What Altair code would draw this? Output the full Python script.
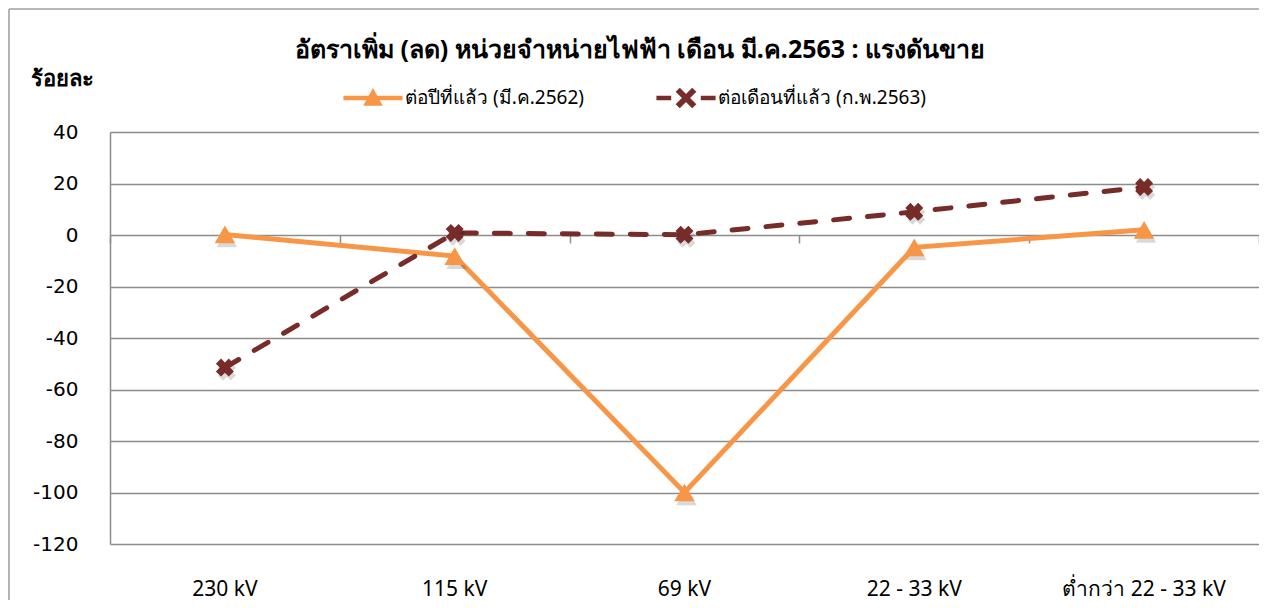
import altair as alt
import pandas as pd

CATS = ["230 kV", "115 kV", "69 kV", "22 - 33 kV", "ต่ำกว่า 22 - 33 kV"]
S1 = "ต่อปีที่แล้ว (มี.ค.2562)"
S2 = "ต่อเดือนที่แล้ว (ก.พ.2563)"
YOY = [0.2, -8.2, -100.0, -4.8, 2.0]
MOM = [-51.5, 0.8, 0.1, 9.0, 18.6]
TITLE = "อัตราเพิ่ม (ลด) หน่วยจำหน่ายไฟฟ้า เดือน มี.ค.2563 : แรงดันขาย"
YTITLE = "ร้อยละ"
YTICKS = [40, 20, 0, -20, -40, -60, -80, -100, -120]

ORANGE = "#F79646"
DARKRED = "#772C2A"
FONT = "DejaVu Sans"
THAI = "Noto Sans, DejaVu Sans, sans-serif"

rows = []
for c, v in zip(CATS, YOY):
    rows.append({"cat": c, "series": S1, "value": v})
for c, v in zip(CATS, MOM):
    rows.append({"cat": c, "series": S2, "value": v})
df = pd.DataFrame(rows)

XSCALE = alt.Scale(type="band", paddingInner=0, paddingOuter=0)
xmain = alt.X("cat:N", sort=CATS, scale=XSCALE,
              axis=alt.Axis(title=None, orient="bottom", domain=False, ticks=False, grid=False,
                            labelAngle=0, labelFont=THAI, labelFontSize=21, labelFontWeight="normal",
                            labelColor="#000", labelPadding=34, labelLimit=400))
xenc = alt.X("cat:N", sort=CATS, scale=XSCALE, axis=None)
yenc = alt.Y("value:Q", scale=alt.Scale(domain=[-120, 40], nice=False, zero=False),
             axis=alt.Axis(values=YTICKS, labelExpr="'' + datum.value",
                           title=YTITLE, titleAngle=0, titleX=-80, titleY=-54,
                           titleAlign="left", titleBaseline="middle", titleFont=THAI,
                           titleFontSize=22, titleFontWeight="bold", titleColor="#000",
                           labelFont=FONT, labelFontSize=20, labelFontWeight="normal",
                           labelColor="#000", labelPadding=32,
                           ticks=False, domain=True, domainColor="#8c8c8c", domainWidth=1.5,
                           grid=True, gridColor="#8c8c8c", gridWidth=1.3))

base = alt.Chart(df)

PATH_A = ("M-1,-0.08H1V0.08H-1Z "
          "M0,-0.34L0.33,0.26L-0.33,0.26Z")
PATH_B = ("M-1,-0.08H-0.5V0.08H-1Z M0.5,-0.08H1V0.08H0.5Z "
          "M-0.35,-0.21L-0.21,-0.35L0.35,0.21L0.21,0.35Z "
          "M0.21,-0.35L0.35,-0.21L-0.21,0.35L-0.35,0.21Z")

def legend(path, lx):
    return alt.Legend(title=None, orient="none", legendX=lx, legendY=-64, direction="horizontal",
                      symbolType=path, symbolSize=3500, symbolStrokeWidth=0,
                      labelFont=THAI, labelFontSize=19, labelFontWeight="normal",
                      labelColor="#000", labelOffset=2, labelLimit=500)

frame_data = alt.Data(values=[{"f": 1}])
frame_left = alt.Chart(frame_data).mark_rule(stroke="#a0a0a0", strokeWidth=1.6).encode(
    x=alt.value(-101), y=alt.value(-123), y2=alt.value(468))
frame_top = alt.Chart(frame_data).mark_rule(stroke="#a0a0a0", strokeWidth=1.6).encode(
    x=alt.value(-101), x2=alt.value(1149), y=alt.value(-123))

line1 = base.transform_filter(alt.datum.series == S1).mark_line(
    color=ORANGE, strokeWidth=5).encode(x=xmain, y=yenc)
line2 = base.transform_filter(alt.datum.series == S2).mark_line(
    color=DARKRED, strokeWidth=5, strokeDash=[16, 18], strokeCap="round").encode(x=xenc, y=yenc)

sh1 = base.transform_filter(alt.datum.series == S1).mark_point(
    shape="triangle-up", filled=True, size=420, color="#000", opacity=0.15,
    xOffset=2, yOffset=4).encode(x=xenc, y=yenc)
sh2 = base.transform_filter(alt.datum.series == S2).mark_point(
    shape="cross", angle=45, filled=True, size=330, color="#000", opacity=0.15,
    xOffset=2, yOffset=4).encode(x=xenc, y=yenc)

pt1 = base.transform_filter(alt.datum.series == S1).mark_point(
    shape="triangle-up", filled=True, size=420, opacity=1).encode(
    x=xenc, y=yenc,
    color=alt.Color("series:N", scale=alt.Scale(domain=[S1], range=[ORANGE]),
                    legend=legend(PATH_A, 233)))
pt2 = base.transform_filter(alt.datum.series == S2).mark_point(
    shape="cross", angle=45, filled=True, size=330, opacity=1).encode(
    x=xenc, y=yenc,
    color=alt.Color("series:N", scale=alt.Scale(domain=[S2], range=[DARKRED]),
                    legend=legend(PATH_B, 546)))

ticks_axis = base.mark_point(opacity=0).encode(
    x=alt.X("cat:N", sort=CATS, scale=XSCALE,
            axis=alt.Axis(title=None, orient="bottom", offset=-309, labels=False, domain=False,
                          ticks=True, tickBand="extent", tickSize=8, tickColor="#8c8c8c",
                          tickWidth=1.5, grid=False)),
    y=yenc)

title = alt.Chart(alt.Data(values=[{"t": TITLE}])).mark_text(
    font=THAI, fontSize=25, fontWeight="bold", color="#000", align="center",
    baseline="middle").encode(x=alt.value(530), y=alt.value(-82), text="t:N")

chart = alt.layer(frame_left, frame_top, ticks_axis, line1, line2, sh1, sh2, pt1, pt2,
                  title).resolve_scale(
    color="independent").resolve_axis(x="independent").properties(
    width=1149, height=412,
    autosize=alt.AutoSizeParams(type="none"),
    padding={"left": 102, "top": 124, "right": 0, "bottom": 56},
).configure_view(stroke=None).configure(background="#ffffff")

chart.save("out.html", embed_options={"renderer": "svg", "actions": False})
